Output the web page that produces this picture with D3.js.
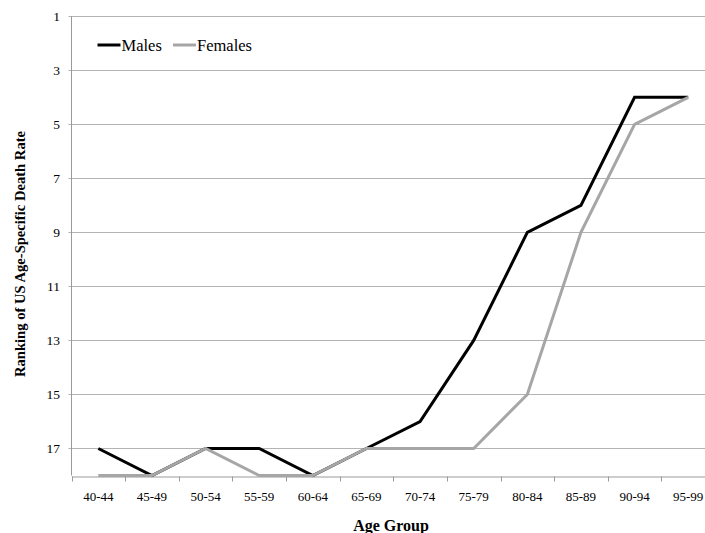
<!DOCTYPE html>
<html><head><meta charset="utf-8">
<script src="https://d3js.org/d3.v7.min.js"></script>
<style>body{margin:0;background:#fff}svg{display:block;overflow:hidden}</style>
</head><body>
<svg id="c" width="705" height="533"></svg>
<script>
const categories = ["40-44","45-49","50-54","55-59","60-64","65-69","70-74","75-79","80-84","85-89","90-94","95-99"];
const males = [17,18,17,17,18,17,16,13,9,8,4,4];
const females = [18,18,17,18,18,17,17,17,15,9,5,4];
const yTicks = [1,3,5,7,9,11,13,15,17];

const svg = d3.select("#c");
const L = 71.5, R = 715, T = 16.3, B = 475.5;
const font = "'Liberation Serif','Times New Roman',serif";

const x = d3.scaleBand().domain(categories).range([L, R]);
const y = d3.scaleLinear().domain([1, 18]).range([T, B]);

// gridlines
svg.append("g").selectAll("line").data(yTicks).join("line")
  .attr("x1", L - 3).attr("x2", R).attr("y1", d => Math.round(y(d)) + 0.5).attr("y2", d => Math.round(y(d)) + 0.5)
  .attr("stroke", "#b3b3b3").attr("stroke-width", 1);

// y axis labels
svg.append("g").selectAll("text").data(yTicks).join("text")
  .attr("x", 60).attr("y", d => y(d) + 4.8).attr("text-anchor", "end")
  .attr("font-family", font).attr("font-size", 13.5).attr("fill", "#000").text(d => d);

// y axis line
svg.append("line").attr("x1", L).attr("x2", L).attr("y1", T).attr("y2", B)
  .attr("stroke", "#9a9a9a").attr("stroke-width", 1);

// x axis
const xAxis = d3.axisBottom(x).tickSize(0).tickPadding(0);
const gx = svg.append("g").attr("transform", `translate(0,${Math.round(B) + 0.5})`).call(xAxis);
gx.select(".domain").attr("stroke", "#9a9a9a");
gx.selectAll("text").attr("font-family", font).attr("font-size", 13).attr("fill", "#000").attr("dy", "0").attr("y", 24);
// boundary tick marks
const edges = categories.map(c => x(c)).concat([R]);
gx.selectAll("line.edge").data(edges).join("line").attr("class", "edge")
  .attr("x1", d => Math.round(d) + 0.5).attr("x2", d => Math.round(d) + 0.5).attr("y1", 0).attr("y2", 5)
  .attr("stroke", "#9a9a9a");

// lines
const line = d3.line().x((d, i) => x(categories[i]) + x.bandwidth() / 2).y(d => y(d));
svg.append("path").datum(males).attr("d", line).attr("fill", "none")
  .attr("stroke", "#000").attr("stroke-width", 3).attr("stroke-linejoin", "miter");
svg.append("path").datum(females).attr("d", line).attr("fill", "none")
  .attr("stroke", "#a6a6a6").attr("stroke-width", 3).attr("stroke-linejoin", "miter");

// legend
const legend = [{name: "Males", color: "#000", x: 97.5}, {name: "Females", color: "#a6a6a6", x: 173}];
const lg = svg.append("g");
legend.forEach(d => {
  lg.append("line").attr("x1", d.x).attr("x2", d.x + 23).attr("y1", 45).attr("y2", 45)
    .attr("stroke", d.color).attr("stroke-width", 3);
  lg.append("text").attr("x", d.x + 24).attr("y", 50.5).attr("font-family", font).attr("font-size", 16.5)
    .attr("fill", "#000").text(d.name);
});

// axis titles
svg.append("text").attr("x", 391).attr("y", 531).attr("text-anchor", "middle")
  .attr("font-family", font).attr("font-size", 16).attr("font-weight", "bold").text("Age Group");
svg.append("text").attr("transform", "translate(24.5,254) rotate(-90)").attr("text-anchor", "middle")
  .attr("font-family", font).attr("font-size", 14.6).attr("font-weight", "bold")
  .text("Ranking of US Age-Specific Death Rate");
</script>
</body></html>
